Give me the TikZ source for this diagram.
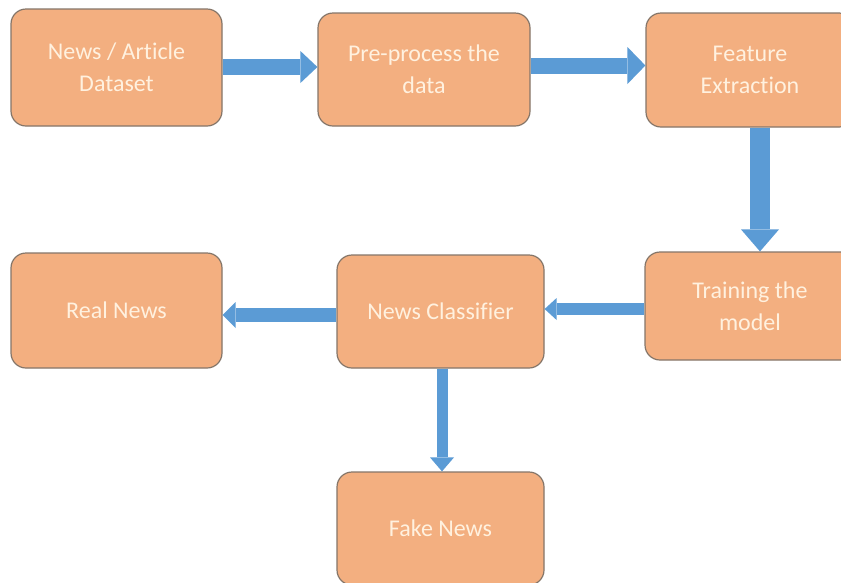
\documentclass[tikz,border=0pt]{standalone}
\usepackage{fontspec}
\setmainfont[Ligatures=NoCommon]{Carlito}
\usetikzlibrary{arrows.meta}
\definecolor{boxfill}{HTML}{F3AF80}
\definecolor{boxline}{HTML}{857669}
\definecolor{boxtext}{HTML}{FFF1DF}
\definecolor{flowblue}{HTML}{5B9BD5}
\tikzset{
  stage/.style 2 args={draw=boxline, line width=1.2pt, fill=boxfill,
    rounded corners=15pt, minimum width=#1pt, minimum height=#2pt,
    inner sep=0pt, text=boxtext, align=center,
    font=\fontsize{24}{32}\selectfont},
  flow/.style n args={3}{draw=flowblue, line width=#1pt, line cap=butt,
    -{Triangle[length=#2pt, width=#3pt, line width=0pt]}}
}
\begin{document}
\begin{tikzpicture}[x=1pt, y=1pt]
  \clip (0,0) rectangle (841,-582);
  \fill[white] (0,0) rectangle (841,-582);

  % process stages
  \node[stage={211}{117}] (data)  at (116.5,-67.5) {News / Article\\Dataset};
  \node[stage={212}{113}] (prep)  at (424,-69.5)   {Pre-process the\\data};
  \node[stage={208}{114}] (feat)  at (750,-70)     {Feature\\Extraction};
  \node[stage={210}{108}] (train) at (750,-306)    {Training the\\model};
  \node[stage={207}{113}] (clf)   at (440.5,-311.5){News Classifier};
  \node[stage={211}{115}] (real)  at (116.5,-310.5){Real News};
  \node[stage={207}{113}] (fake)  at (440.5,-528.5){Fake News};

  % block arrows between stages
  \draw[flow={16}{17}{32}] (data.east |- 0,-67) -- (prep.west |- 0,-67);
  \draw[flow={16}{18}{37}] (prep.east |- 0,-65.5) -- (feat.west |- 0,-65.5);
  \draw[flow={20}{22}{38}] (760,0 |- feat.south) -- (760,0 |- train.north);
  \draw[flow={12}{12}{22}] (train.west |- 0,-309) -- (clf.east |- 0,-309);
  \draw[flow={14}{13}{26}] (clf.west |- 0,-315) -- (real.east |- 0,-315);
  \draw[flow={11}{14}{24}] (442,0 |- clf.south) -- (442,0 |- fake.north);
\end{tikzpicture}
\end{document}
